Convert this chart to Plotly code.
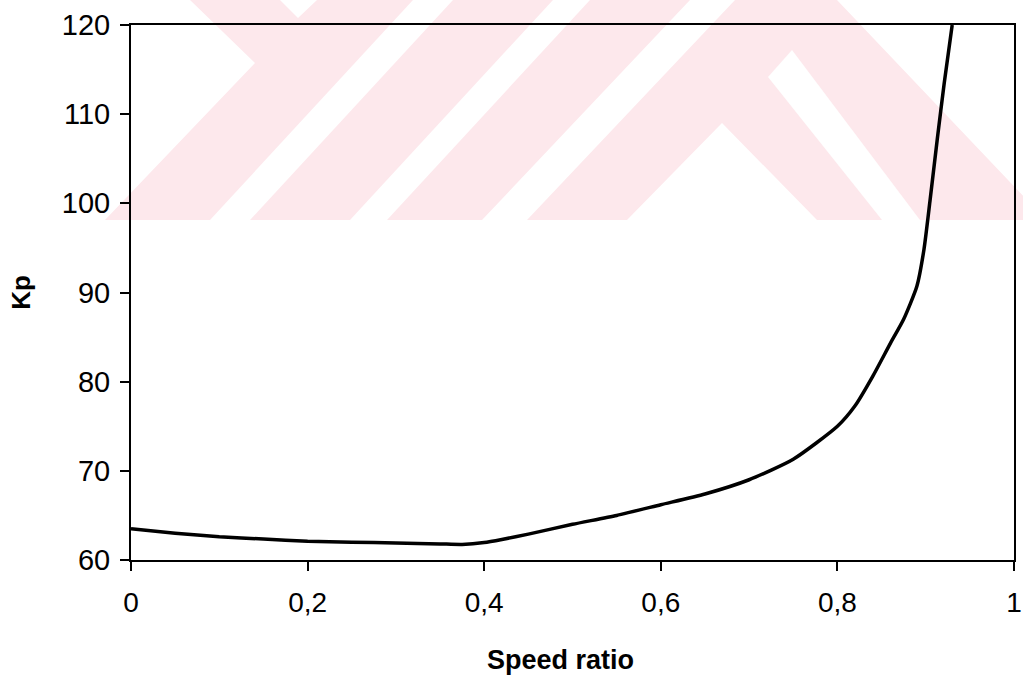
import plotly.graph_objects as go

# ---- data ----
speed_ratio = [0.0, 0.05, 0.10, 0.15, 0.20, 0.25, 0.30, 0.35, 0.375, 0.40, 0.42, 0.45,
               0.50, 0.55, 0.60, 0.65, 0.70, 0.75, 0.80, 0.82, 0.84, 0.86, 0.875,
               0.89, 0.898, 0.905, 0.913, 0.921, 0.93]
kp = [63.5, 63.0, 62.6, 62.35, 62.1, 62.0, 61.9, 61.8, 61.75, 61.95, 62.3, 62.9,
      64.0, 65.0, 66.2, 67.4, 69.0, 71.3, 75.0, 77.3, 80.6, 84.3, 87.0,
      90.7, 94.8, 100.4, 107.1, 113.5, 120.0]

x_ticks = [0, 0.2, 0.4, 0.6, 0.8, 1]
x_tick_labels = ["0", "0,2", "0,4", "0,6", "0,8", "1"]
y_ticks = [60, 70, 80, 90, 100, 110, 120]
x_title = "Speed ratio"
y_title = "Kp"

W, H = 1023, 676
ML, MR, MT, MB = 131, 9, 25, 116
PW, PH = W - ML - MR, H - MT - MB

FONT = "Liberation Sans, Arial, sans-serif"
PINK = "#FDE8EC"


def to_paper(pts):
    out = []
    for i, (px, py) in enumerate(pts):
        xp = (px - ML) / PW
        yp = (H - MB - py) / PH
        out.append(("M" if i == 0 else "L") + f"{xp:.5f},{yp:.5f}")
    return " ".join(out) + " Z"


# background watermark (decoration), pixel polygons
wm_pink = [(190, 0), (280, 0), (298, 18), (317, 0), (837, 0), (1046, 220),
           (105, 220), (255, 63)]
wm_white = [
    [(413, 0), (453, 0), (250, 220), (210, 220)],
    [(553, 0), (590, 0), (387, 220), (350, 220)],
    [(690, 0), (735, 0), (527, 220), (482, 220)],
    [(722, 123), (817, 220), (627, 220)],
    [(768, 77), (792, 50), (920, 220), (882, 220)],
]

shapes = [dict(type="path", xref="paper", yref="paper", path=to_paper(wm_pink),
               fillcolor=PINK, line=dict(width=0), layer="below")]
for poly in wm_white:
    shapes.append(dict(type="path", xref="paper", yref="paper", path=to_paper(poly),
                       fillcolor="white", line=dict(width=0), layer="below"))

fig = go.Figure()
fig.add_trace(go.Scatter(x=speed_ratio, y=kp, mode="lines",
                         line=dict(color="black", width=3.5, shape="spline", smoothing=0.6),
                         showlegend=False, cliponaxis=True))

fig.update_layout(
    width=W, height=H,
    margin=dict(l=ML, r=MR, t=MT, b=MB, pad=0, autoexpand=False),
    paper_bgcolor="white",
    plot_bgcolor="rgba(0,0,0,0)",
    font=dict(family=FONT, color="black", size=28),
    shapes=shapes,
    annotations=[dict(text=f"<b>{x_title}</b>", xref="paper", yref="paper",
                      x=(560 - ML) / PW, y=(H - MB - 660) / PH,
                      xanchor="center", yanchor="middle", showarrow=False,
                      font=dict(size=27, family=FONT, color="black"))],
)

fig.update_xaxes(
    range=[0, 1], tickvals=x_ticks, ticktext=x_tick_labels,
    showgrid=False, zeroline=False, automargin=False,
    showline=True, linecolor="black", linewidth=2, mirror=True,
    ticks="outside", ticklen=9, tickwidth=1.5, tickcolor="black",
    tickfont=dict(size=28, family=FONT), ticklabelstandoff=7,
    ticklabeloverflow="allow",
)
fig.update_yaxes(
    range=[60, 120], tickvals=y_ticks,
    showgrid=False, zeroline=False, automargin=False,
    showline=True, linecolor="black", linewidth=2, mirror=True,
    ticks="outside", ticklen=9, tickwidth=1.5, tickcolor="black",
    tickfont=dict(size=29, family=FONT), ticklabelstandoff=4,
    ticklabeloverflow="allow",
    title=dict(text=f"<b>{y_title}</b>", font=dict(size=26, family=FONT), standoff=24),
)

fig.write_html("out.html")
